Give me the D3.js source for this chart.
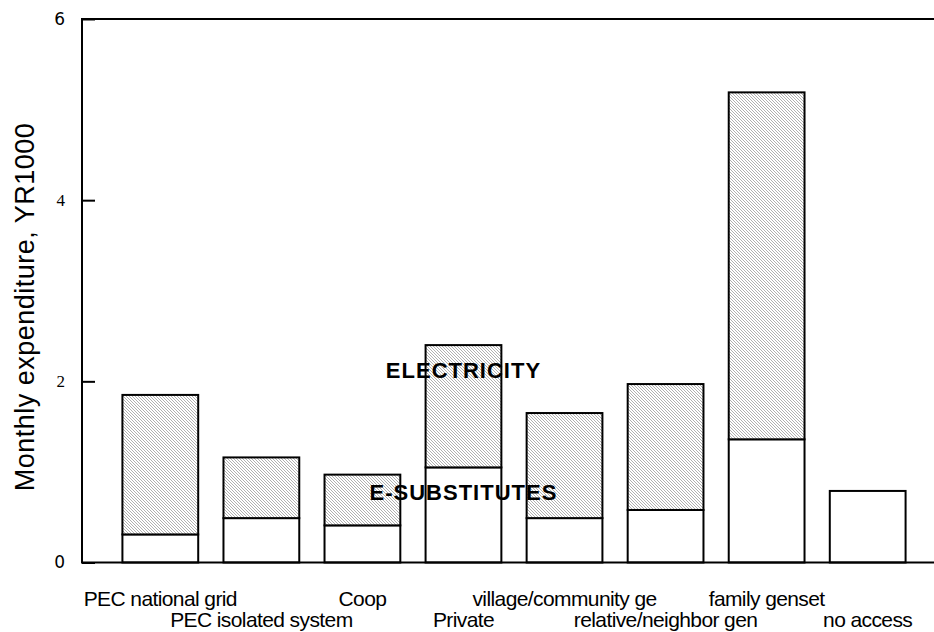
<!DOCTYPE html>
<html>
<head>
<meta charset="utf-8">
<script src="https://cdn.jsdelivr.net/npm/d3@7"></script>
<style>
  html, body { margin: 0; padding: 0; background: #fff; }
  svg { display: block; }
</style>
</head>
<body>
<svg id="chart" width="934" height="632"></svg>
<script>
// ---- data ----
const categories = ["PEC national grid", "PEC isolated system", "Coop", "Private",
  "village/community ge", "relative/neighbor gen", "family genset", "no access"];
const substitutes = [0.31, 0.49, 0.41, 1.05, 0.49, 0.58, 1.36, 0.79];
const electricity = [1.54, 0.67, 0.56, 1.35, 1.16, 1.39, 3.83, 0.00];
const yTicks = [0, 2, 4, 6];
const yTitle = "Monthly expenditure, YR1000";
const annotations = [
  { text: "ELECTRICITY", cat: "Private", value: 2.12 },
  { text: "E-SUBSTITUTES", cat: "Private", value: 0.78 }
];

// ---- layout ----
const W = 934, H = 632;
const plotLeft = 82, plotTop = 19, plotBottom = 562.5, plotRight = 946;
const svg = d3.select("#chart");

const defs = svg.append("defs");
const pat = defs.append("pattern")
  .attr("id", "hatch").attr("patternUnits", "userSpaceOnUse")
  .attr("width", 3).attr("height", 3);
pat.append("rect").attr("width", 3).attr("height", 3).attr("fill", "#fff");
pat.append("path").attr("d", "M-1,-1 L4,4 M-1,2 L1,4 M2,-1 L4,1")
  .attr("stroke", "#9c9c9c").attr("stroke-width", 0.8);

const x = d3.scaleBand().domain(categories).range([plotLeft, plotRight])
  .paddingInner(0.25).paddingOuter(0.4);
const y = d3.scaleLinear().domain([0, 6]).range([plotBottom, plotTop]);

const rows = categories.map((c, i) => ({ c, s: substitutes[i], e: electricity[i], i }));

// substitutes segment (white)
svg.append("g").selectAll("rect").data(rows).join("rect")
  .attr("x", d => x(d.c)).attr("width", x.bandwidth())
  .attr("y", d => y(d.s)).attr("height", d => y(0) - y(d.s))
  .attr("fill", "#fff").attr("stroke", "#000").attr("stroke-width", 2);

// electricity segment (hatched)
svg.append("g").selectAll("rect").data(rows.filter(d => d.e > 0)).join("rect")
  .attr("x", d => x(d.c)).attr("width", x.bandwidth())
  .attr("y", d => y(d.s + d.e)).attr("height", d => y(d.s) - y(d.s + d.e))
  .attr("fill", "url(#hatch)").attr("stroke", "#000").attr("stroke-width", 2);

// frame: left, top, bottom
svg.append("path")
  .attr("d", `M${W},${plotTop}H${plotLeft}V${plotBottom}H${W}`)
  .attr("fill", "none").attr("stroke", "#000").attr("stroke-width", 2);

// y axis ticks (inward) and labels
const yAxis = d3.axisLeft(y).tickValues(yTicks).tickFormat(d3.format("d"))
  .tickSizeInner(-13).tickSizeOuter(0).tickPadding(17);
const gy = svg.append("g").attr("transform", `translate(${plotLeft},0)`).call(yAxis);
gy.select(".domain").remove();
gy.selectAll(".tick line").attr("stroke", "#000").attr("stroke-width", 2);
gy.selectAll(".tick text")
  .attr("fill", "#000")
  .style("font-size", "17px")
  .style("font-family", d => (d === 2 || d === 4) ? "'Liberation Serif', serif" : "'DejaVu Sans', sans-serif");

// y title
svg.append("text")
  .attr("transform", `translate(34,307) rotate(-90)`)
  .attr("text-anchor", "middle")
  .style("font-family", "'Liberation Sans', Arial, sans-serif")
  .style("font-size", "27px")
  .style("letter-spacing", "0.5px")
  .text(yTitle);

// x category labels, staggered in two rows
svg.append("g").selectAll("text").data(rows).join("text")
  .attr("x", d => x(d.c) + x.bandwidth() / 2)
  .attr("y", d => d.i % 2 === 0 ? 606 : 627)
  .attr("text-anchor", "middle")
  .style("font-family", "'Liberation Sans', Arial, sans-serif")
  .style("font-size", "21px")
  .style("letter-spacing", "-0.6px")
  .text(d => d.c);

// annotations
svg.append("g").selectAll("text").data(annotations).join("text")
  .attr("x", d => x(d.cat) + x.bandwidth() / 2)
  .attr("y", d => y(d.value) + 8)
  .attr("text-anchor", "middle")
  .style("font-family", "'Liberation Sans', Arial, sans-serif")
  .style("font-size", "22px")
  .style("font-weight", "bold")
  .style("letter-spacing", "1px")
  .text(d => d.text);
</script>
</body>
</html>
